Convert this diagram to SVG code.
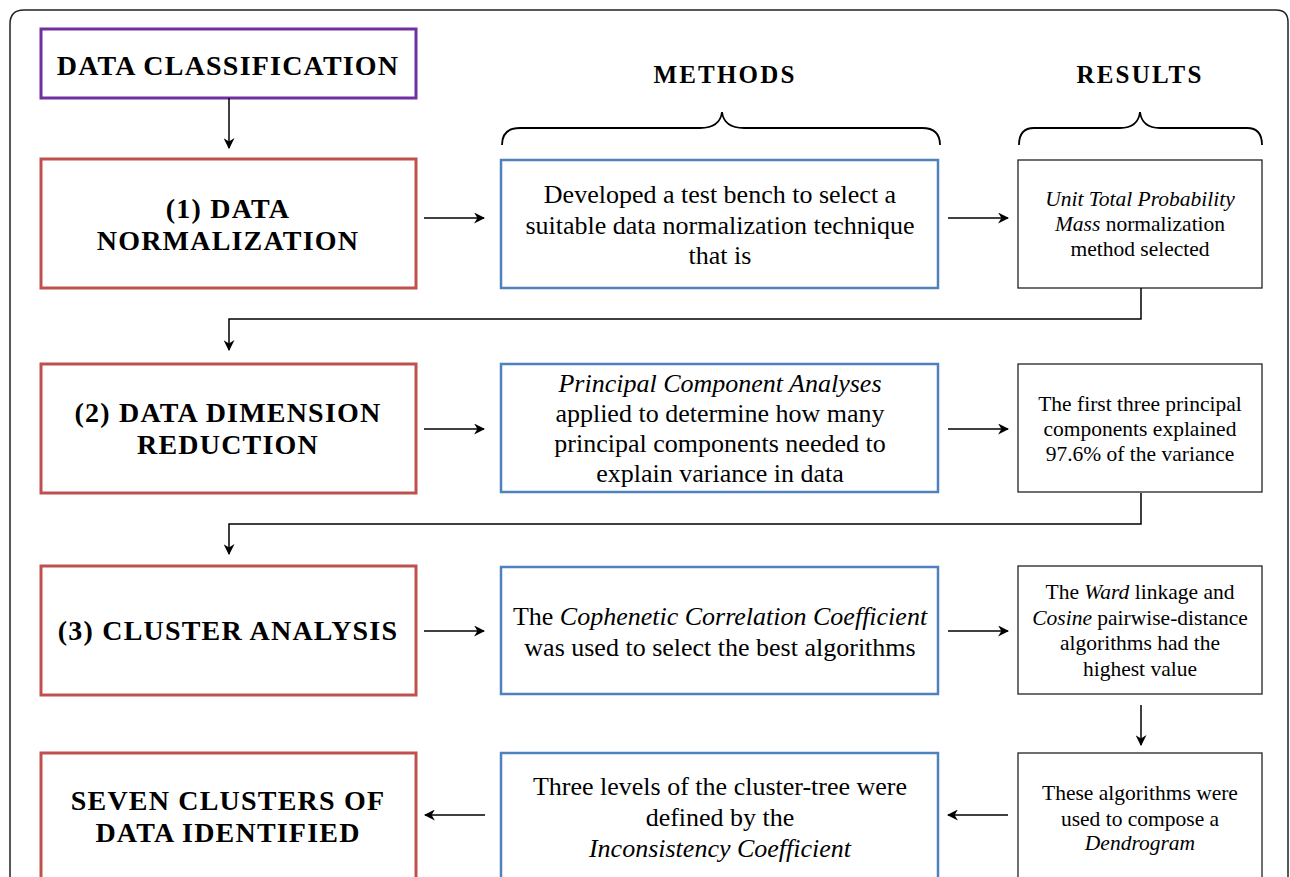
<svg xmlns="http://www.w3.org/2000/svg" width="1290" height="877" viewBox="0 0 1290 877">
<defs>
<style>
.frame{fill:none;stroke:#222;stroke-width:1.5}
.purple{fill:#fff;stroke:#7030A0;stroke-width:3}
.red{fill:#fff;stroke:#C0504D;stroke-width:3}
.blue{fill:#fff;stroke:#4F81BD;stroke-width:2.5}
.black{fill:#fff;stroke:#222;stroke-width:1.3}
.h{font-family:"Liberation Serif",serif;font-weight:bold;font-size:28px;letter-spacing:1.2px;text-anchor:middle;fill:#000}
.hd{font-family:"Liberation Serif",serif;font-weight:bold;font-size:25px;letter-spacing:2.2px;text-anchor:middle;fill:#000}
.m{font-family:"Liberation Serif",serif;font-size:26px;text-anchor:middle;fill:#000}
.r{font-family:"Liberation Serif",serif;font-size:21.5px;text-anchor:middle;fill:#000}
.i{font-style:italic}
.c{fill:none;stroke:#000;stroke-width:1.5}
.br{fill:none;stroke:#000;stroke-width:1.8}
</style>
<marker id="ah" viewBox="0 0 10 10" refX="9" refY="5" markerWidth="11" markerHeight="11" markerUnits="userSpaceOnUse" orient="auto">
<path d="M0,0 L10,5 L0,10 L3,5 Z" fill="#000"/>
</marker>
</defs>
<rect width="1290" height="877" fill="#fff"/>
<path class="frame" d="M10,877 V24 Q10,10 24,10 H1276 Q1288,10 1288,22 V877"/>

<g id="title">
<rect class="purple" x="41" y="29" width="375" height="69"/>
<text class="h" x="228" y="75">DATA CLASSIFICATION</text>
</g>
<g id="hdr-methods"><text class="hd" x="725" y="83">METHODS</text>
<path class="br" d="M502,145 Q502,128 520,128 H700 Q720,128 722,112 Q724,128 744,128 H922 Q940,128 940,145"/></g>
<g id="hdr-results"><text class="hd" x="1140" y="83">RESULTS</text>
<path class="br" d="M1019,145 Q1019,128 1034,128 H1120 Q1138,128 1140,112 Q1142,128 1160,128 H1247 Q1262,128 1262,145"/></g>

<g id="step1">
<rect class="red" x="41" y="159" width="375" height="129"/>
<text class="h" x="228" y="218">(1) DATA</text>
<text class="h" x="228" y="250">NORMALIZATION</text>
</g>
<g id="method1">
<rect class="blue" x="501" y="160" width="437" height="128"/>
<text class="m" x="720" y="203">Developed a test bench to select a</text>
<text class="m" x="720" y="234">suitable data normalization technique</text>
<text class="m" x="720" y="264">that is</text>
</g>
<g id="result1">
<rect class="black" x="1018" y="160" width="244" height="128"/>
<text class="r" x="1140" y="206"><tspan class="i">Unit Total Probability</tspan></text>
<text class="r" x="1140" y="231"><tspan class="i">Mass</tspan> normalization</text>
<text class="r" x="1140" y="256">method selected</text>
</g>

<g id="step2">
<rect class="red" x="41" y="364" width="375" height="129"/>
<text class="h" x="228" y="422">(2) DATA DIMENSION</text>
<text class="h" x="228" y="454">REDUCTION</text>
</g>
<g id="method2">
<rect class="blue" x="501" y="364" width="437" height="128"/>
<text class="m i" x="720" y="392">Principal Component Analyses</text>
<text class="m" x="720" y="422">applied to determine how many</text>
<text class="m" x="720" y="452">principal components needed to</text>
<text class="m" x="720" y="482">explain variance in data</text>
</g>
<g id="result2">
<rect class="black" x="1018" y="364" width="244" height="128"/>
<text class="r" x="1140" y="411">The first three principal</text>
<text class="r" x="1140" y="436">components explained</text>
<text class="r" x="1140" y="461">97.6% of the variance</text>
</g>

<g id="step3">
<rect class="red" x="41" y="566" width="375" height="129"/>
<text class="h" x="228" y="640">(3) CLUSTER ANALYSIS</text>
</g>
<g id="method3">
<rect class="blue" x="501" y="567" width="437" height="127"/>
<text class="m" x="720" y="625">The <tspan class="i">Cophenetic Correlation Coefficient</tspan></text>
<text class="m" x="720" y="656">was used to select the best algorithms</text>
</g>
<g id="result3">
<rect class="black" x="1018" y="566" width="244" height="128"/>
<text class="r" x="1140" y="599">The <tspan class="i">Ward</tspan> linkage and</text>
<text class="r" x="1140" y="625"><tspan class="i">Cosine</tspan> pairwise-distance</text>
<text class="r" x="1140" y="650">algorithms had the</text>
<text class="r" x="1140" y="676">highest value</text>
</g>

<g id="final">
<rect class="red" x="41" y="753" width="375" height="140"/>
<text class="h" x="228" y="810">SEVEN CLUSTERS OF</text>
<text class="h" x="228" y="842">DATA IDENTIFIED</text>
</g>
<g id="method4">
<rect class="blue" x="501" y="753" width="437" height="140"/>
<text class="m" x="720" y="795">Three levels of the cluster-tree were</text>
<text class="m" x="720" y="826">defined by the</text>
<text class="m i" x="720" y="857">Inconsistency Coefficient</text>
</g>
<g id="result4">
<rect class="black" x="1018" y="753" width="244" height="140"/>
<text class="r" x="1140" y="800">These algorithms were</text>
<text class="r" x="1140" y="826">used to compose a</text>
<text class="r i" x="1140" y="850">Dendrogram</text>
</g>

<g id="connectors">
<path class="c" d="M229,98 V148" marker-end="url(#ah)"/>
<path class="c" d="M424,218 H484" marker-end="url(#ah)"/>
<path class="c" d="M948,218 H1008" marker-end="url(#ah)"/>
<path class="c" d="M1141,288 V319 H229 V350" marker-end="url(#ah)"/>
<path class="c" d="M424,429 H484" marker-end="url(#ah)"/>
<path class="c" d="M948,429 H1008" marker-end="url(#ah)"/>
<path class="c" d="M1141,493 V524 H229 V554" marker-end="url(#ah)"/>
<path class="c" d="M424,631 H484" marker-end="url(#ah)"/>
<path class="c" d="M948,631 H1008" marker-end="url(#ah)"/>
<path class="c" d="M1141,705 V745" marker-end="url(#ah)"/>
<path class="c" d="M1008,815 H948" marker-end="url(#ah)"/>
<path class="c" d="M485,815 H425" marker-end="url(#ah)"/>
</g>
</svg>
